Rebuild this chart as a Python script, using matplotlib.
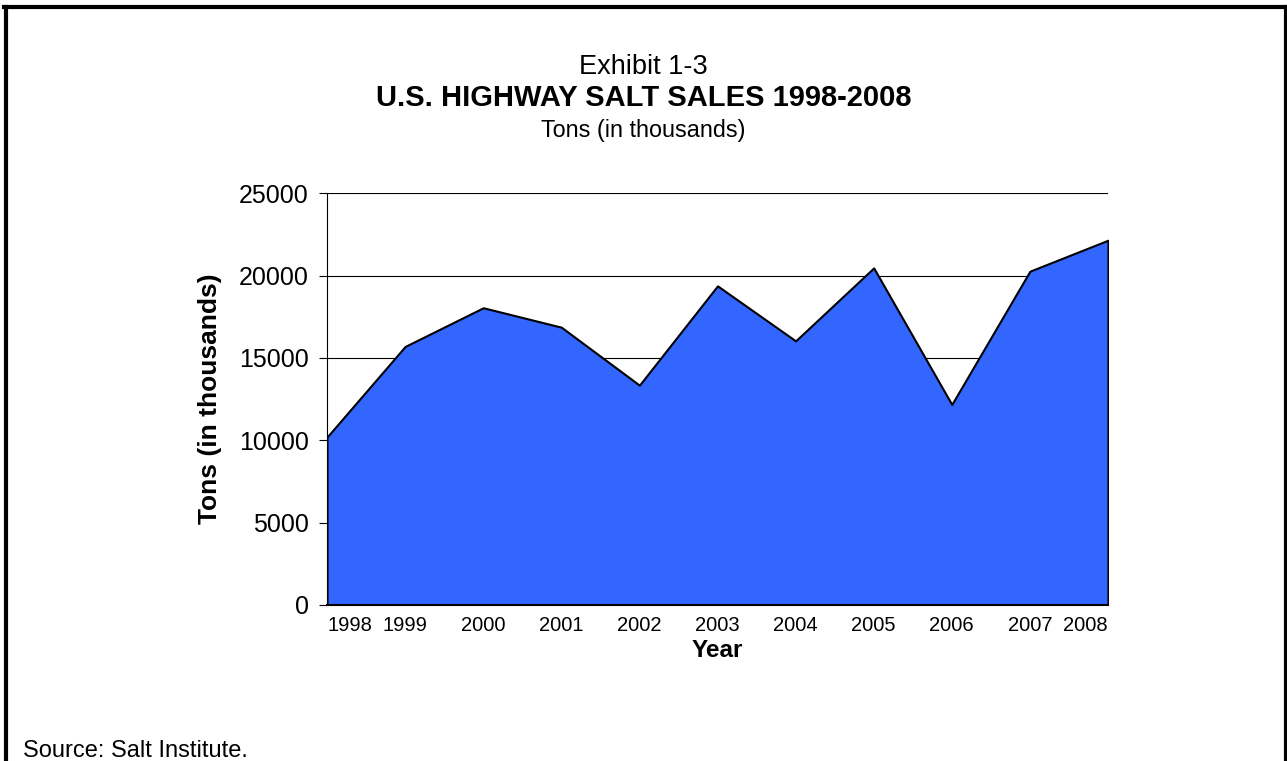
import matplotlib
matplotlib.use("Agg")
import matplotlib.pyplot as plt
from matplotlib.lines import Line2D

plt.rcParams["font.family"] = ["Liberation Sans", "DejaVu Sans"]

# Data (tons, in thousands)
years = [1998, 1999, 2000, 2001, 2002, 2003, 2004, 2005, 2006, 2007, 2008]
tons = [10200, 15700, 18050, 16870, 13350, 19380, 16040, 20470, 12180, 20270, 22150]
y_ticks = [0, 5000, 10000, 15000, 20000, 25000]

fig = plt.figure(figsize=(12.87, 7.61), dpi=100)
ax = fig.add_axes([0.2541, 0.2050, 0.6068, 0.5410])

# area under the series, black outline all round
ax.fill_between(years, tons, 0, facecolor="#3366FF", edgecolor="black",
                linewidth=1.5, zorder=3)

ax.set_xlim(years[0], years[-1])
ax.set_ylim(0, 25000)
ax.set_yticks(y_ticks)
ax.set_yticklabels([str(v) for v in y_ticks], fontsize=18)
ax.set_xticks(years)
ax.set_xticklabels([str(y) for y in years], fontsize=14.5)
labels = ax.get_xticklabels()
labels[0].set_horizontalalignment("left")
labels[-1].set_horizontalalignment("right")

ax.yaxis.grid(True, color="black", linewidth=0.8)
ax.set_axisbelow(True)
ax.tick_params(axis="y", direction="out", length=6, width=0.8, pad=7)
ax.tick_params(axis="x", length=0, pad=8)

for side in ["top", "right"]:
    ax.spines[side].set_visible(False)
ax.spines["left"].set_linewidth(0.8)
ax.spines["bottom"].set_linewidth(1.5)
ax.spines["bottom"].set_zorder(4)

ax.set_xlabel("Year", fontsize=17.5, fontweight="bold", labelpad=3)
ax.set_ylabel("Tons (in thousands)", fontsize=19, fontweight="bold", labelpad=12)

# titles
fig.text(0.5, 1 - 73.5 / 761, "Exhibit 1-3", fontsize=19.5, ha="center", va="baseline")
fig.text(0.5, 1 - 106.5 / 761, "U.S. HIGHWAY SALT SALES 1998-2008", fontsize=21,
         fontweight="bold", ha="center", va="baseline")
fig.text(0.5, 1 - 137 / 761, "Tons (in thousands)", fontsize=16.8, ha="center", va="baseline")
fig.text(23 / 1287, 1 - 757 / 761, "Source: Salt Institute.", fontsize=17,
         ha="left", va="baseline")

# frame around the exhibit (open at the bottom)
fig.add_artist(Line2D([5.5 / 1287, 5.5 / 1287], [0, 1 - 7 / 761], color="black", linewidth=3))
fig.add_artist(Line2D([3.5 / 1287, 1285.5 / 1287], [1 - 7 / 761, 1 - 7 / 761], color="black", linewidth=3))
fig.add_artist(Line2D([1285.5 / 1287, 1285.5 / 1287], [0, 1 - 7 / 761], color="black", linewidth=3))

fig.savefig("out.png", dpi=100)
